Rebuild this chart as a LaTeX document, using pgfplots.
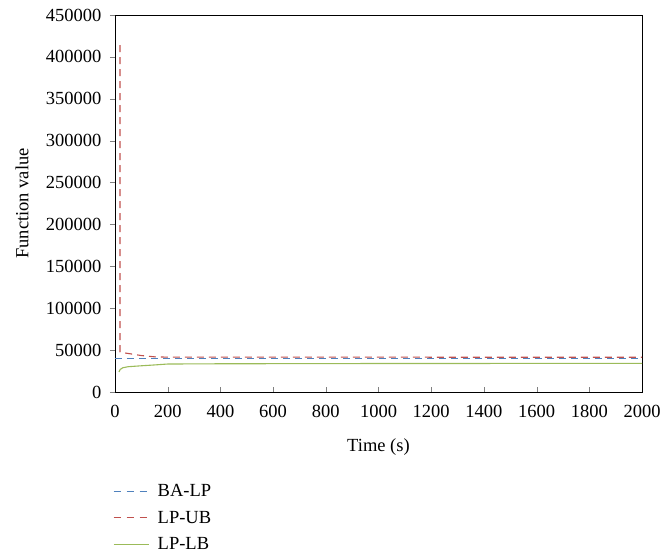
\documentclass[border=0pt]{standalone}
\usepackage{fontspec}
\setmainfont{Liberation Serif}
\usepackage{pgfplots}
\pgfplotsset{compat=1.18}
\definecolor{cblue}{RGB}{79,129,189}
\definecolor{cred}{RGB}{192,80,77}
\definecolor{cgreen}{RGB}{155,187,89}
\begin{document}
\begin{tikzpicture}
\begin{axis}[name=ax,
  scale only axis, width=527pt, height=377pt,
  xmin=0, xmax=2000, ymin=0, ymax=450000,
  xtick={0,200,...,2000}, ytick={0,50000,...,450000},
  scaled ticks=false,
  xtick pos=bottom, ytick pos=left,
  xtick align=inside, ytick align=outside,
  major tick length=5pt,
  /pgf/number format/assume math mode=true,
  yticklabel style={/pgf/number format/fixed,/pgf/number format/1000 sep={}, xshift=-5pt},
  xticklabel style={/pgf/number format/1000 sep={}, yshift=-10pt},
  font=\fontsize{18.5}{22}\selectfont,
  ticklabel style={font=\fontsize{18.5}{22}\selectfont},
  xlabel={Time (s)}, ylabel={Function value},
  xlabel style={at={(axis description cs:0.5,-0.146)}, anchor=center},
  ylabel style={at={(axis description cs:-0.1765,0.5)}, anchor=center},
  axis line style={line width=0.9pt},
  legend style={at={(-0.004,-0.239)}, anchor=north west, draw=none, fill=none, inner sep=0pt,
    font=\fontsize{18.5}{22}\selectfont, row sep=9pt, cells={anchor=west}},
  legend cell align=left,
]
\addplot[cblue, line width=1.1pt, dash pattern=on 7pt off 5pt,
  legend image code/.code={\draw[cblue,line width=1.3pt,dash pattern=on 7pt off 6pt] (0pt,0pt) -- (35pt,0pt); \path[draw=none] (0pt,0pt) rectangle (42pt,0.1pt);}]
  coordinates {(0,40500) (2000,40500)};
\addlegendentry{BA-LP}
\addplot[cred, line width=1.1pt, dash pattern=on 7pt off 5pt,
  legend image code/.code={\draw[cred,line width=1.3pt,dash pattern=on 7pt off 6pt] (0pt,0pt) -- (35pt,0pt); \path[draw=none] (0pt,0pt) rectangle (42pt,0.1pt);}]
  coordinates {(19,414000) (19,48000) (30,47000) (60,45500) (100,43500) (150,42000) (200,41600) (2000,41500)};
\addlegendentry{LP-UB}
\addplot[cgreen, line width=1.1pt,
  legend image code/.code={\draw[cgreen,line width=1.3pt] (0pt,0pt) -- (35pt,0pt); \path[draw=none] (0pt,0pt) rectangle (42pt,0.1pt);}]
  coordinates {(15,24000) (20,27000) (30,29000) (50,30200) (100,31300) (150,32300) (200,33400) (400,33700) (1000,34000) (2000,34200)};
\addlegendentry{LP-LB}
\end{axis}
\pgfresetboundingbox
\path[use as bounding box] ([shift={(-115pt,-162pt)}]ax.south west) rectangle ([shift={(23pt,15pt)}]ax.north east);
\end{tikzpicture}
\end{document}
